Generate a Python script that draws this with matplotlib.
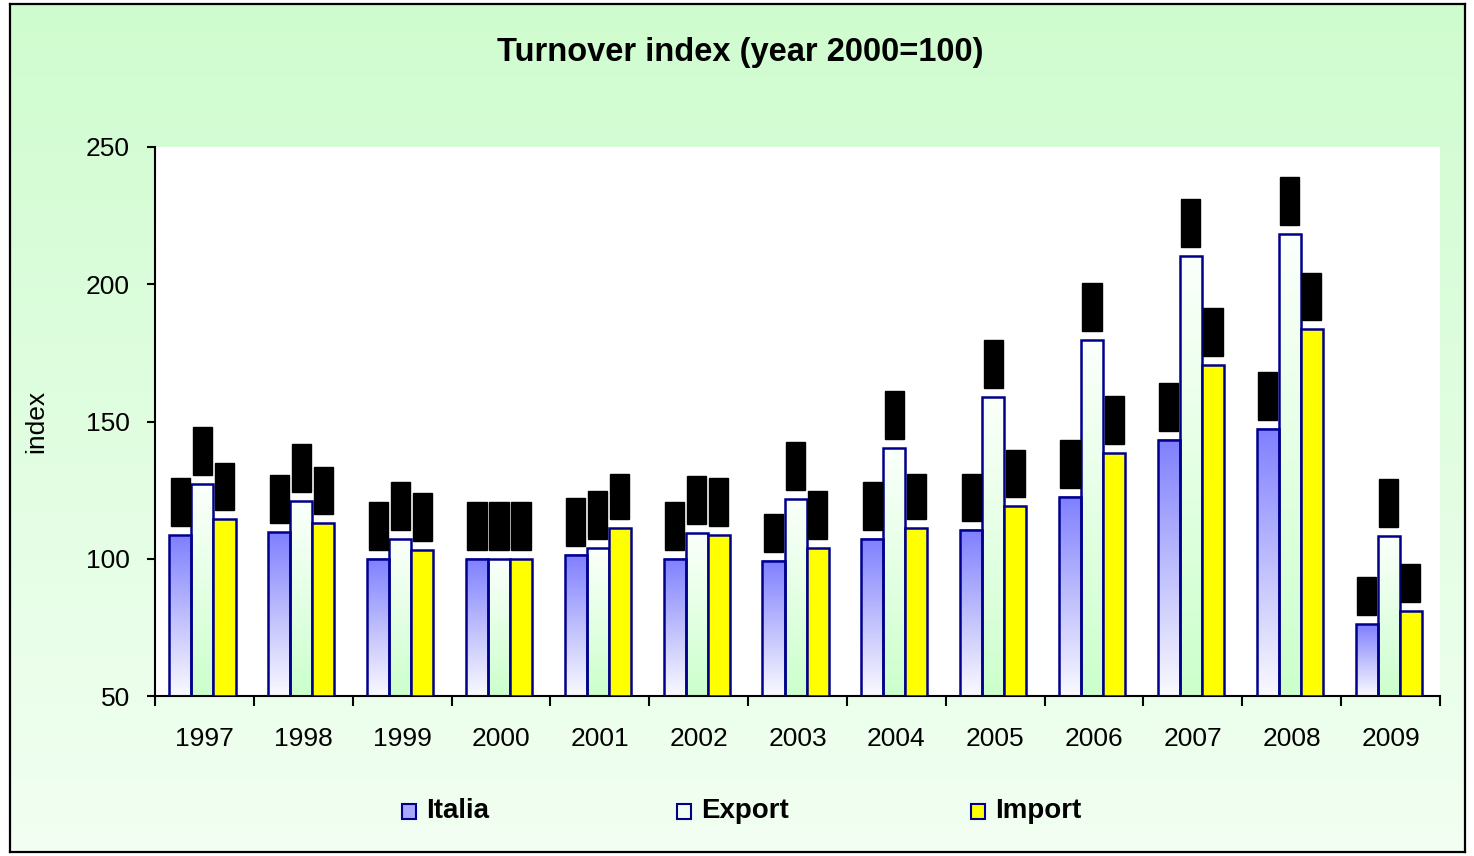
import numpy as np
import matplotlib.pyplot as plt
from matplotlib.colors import LinearSegmentedColormap
from matplotlib.patches import Rectangle

plt.rcParams['font.family'] = ['Liberation Sans', 'DejaVu Sans']

years = ['1997', '1998', '1999', '2000', '2001', '2002', '2003',
         '2004', '2005', '2006', '2007', '2008', '2009']
italia = [108.6, 109.7, 100.0, 100.0, 101.4, 100.0, 99.2,
          107.2, 110.5, 122.5, 143.3, 147.4, 76.2]
export = [127.2, 121.0, 107.2, 100.0, 103.9, 109.4, 121.8,
          140.3, 158.9, 179.7, 210.3, 218.4, 108.4]
imports = [114.5, 113.0, 103.2, 100.0, 111.2, 108.6, 103.9,
           111.2, 119.2, 138.5, 170.6, 183.6, 81.0]

W, H = 1474, 856
fig = plt.figure(figsize=(W / 100, H / 100), dpi=100)
fig.patch.set_facecolor('white')

# light green panel background with frame
bg = fig.add_axes([10 / W, 4 / H, 1455 / W, 848 / H], zorder=-5)
grad = np.linspace(0, 1, 256).reshape(-1, 1)
bg_cmap = LinearSegmentedColormap.from_list('bg', ['#f2fff2', '#cffccf'])
bg.imshow(grad, cmap=bg_cmap, aspect='auto', origin='lower', extent=(0, 1, 0, 1))
bg.set_xlim(0, 1)
bg.set_ylim(0, 1)
bg.set_xticks([])
bg.set_yticks([])
for s in bg.spines.values():
    s.set_linewidth(1.6)
    s.set_color('black')

ax = fig.add_axes([155 / W, 1 - 696 / H, 1285 / W, 549 / H])
ax.set_facecolor('white')

x = np.arange(len(years)) - 0.02
bw = 0.223
cm_it = LinearSegmentedColormap.from_list('it', [(0, '#fafaff'), (0.45, '#c4c4fd'), (1, '#7f7fff')])
cm_ex = LinearSegmentedColormap.from_list('ex', ['#ccffcc', '#fbfffb'])
series = [(italia, -bw, cm_it, None), (export, 0, cm_ex, None), (imports, bw, None, '#ffff00')]

for vals, off, cmap, solid in series:
    # gradient fill inside each bar
    if cmap is not None:
        for xi, v in zip(x, vals):
            x0 = xi + off - bw / 2
            ax.imshow(grad, cmap=cmap, aspect='auto', origin='lower',
                      extent=(x0, x0 + bw, 50, v), zorder=2)
    ax.bar(x + off, np.array(vals) - 50, bw, bottom=50,
           facecolor=solid if solid else 'none', edgecolor='#00008b',
           linewidth=1.8, zorder=3)
    # data labels (shown as black boxes in the reference)
    for xi, v in zip(x, vals):
        ax.annotate(f'{v:.1f}', (xi + off, v), xytext=(0, 8), textcoords='offset points',
                    rotation=90, ha='center', va='bottom', fontsize=12.5, color='black',
                    bbox=dict(boxstyle='square,pad=0.12', fc='black', ec='black'),
                    zorder=4)

ax.set_xlim(-0.5, len(years) - 0.5)
ax.set_ylim(50, 250)
ax.set_yticks([50, 100, 150, 200, 250])
ax.tick_params(axis='y', labelsize=19, length=6, width=1.5, pad=12, direction='out')
ax.set_xticks(np.arange(len(years) + 1) - 0.5)
ax.set_xticklabels([])
ax.set_xticks(np.arange(len(years)), minor=True)
ax.set_xticklabels(years, minor=True)
ax.tick_params(axis='x', which='major', length=7, width=1.5, direction='out')
ax.tick_params(axis='x', which='minor', length=0, labelsize=19, pad=22)
for s in ['top', 'right']:
    ax.spines[s].set_visible(False)
for s in ['left', 'bottom']:
    ax.spines[s].set_linewidth(1.5)
ax.set_ylabel('index', fontsize=19)
ax.yaxis.set_label_coords(-0.083, 0.5)

fig.text(740 / W, 1 - 52 / H, 'Turnover index (year 2000=100)', ha='center', va='center',
         fontsize=23.5, fontweight='bold')

# legend
legend_items = [('Italia', '#a8a8ff', 402), ('Export', '#f0fff0', 677), ('Import', '#ffff00', 971)]
for name, col, px in legend_items:
    fig.patches.append(Rectangle((px / W, 1 - 819 / H), 14 / W, 15 / H, transform=fig.transFigure,
                                 facecolor=col, edgecolor='#00008b', linewidth=1.5))
    fig.text((px + 24) / W, 1 - 811 / H, name, ha='left', va='center',
             fontsize=20, fontweight='bold')

fig.savefig('out.png', dpi=100)
